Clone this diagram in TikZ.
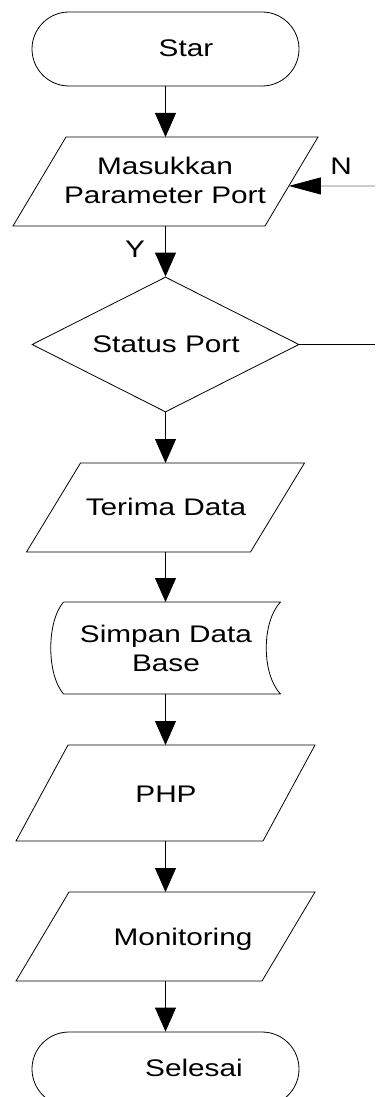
\documentclass[tikz,border=0pt]{standalone}
\usepackage{fontspec}
\setmainfont{Liberation Sans}[FakeStretch=1.24]
\usetikzlibrary{arrows.meta,shapes.misc,shapes.geometric,calc}
\tikzset{
  line/.style={line width=0.8pt},
  flow/.style={line, -{Triangle[length=24pt,width=21pt]}},
  terminal/.style={rounded rectangle, draw, line, minimum width=267pt, minimum height=74pt, inner sep=0pt},
  decision/.style={diamond, draw, line, minimum width=267pt, minimum height=135pt, inner sep=0pt},
  frame/.style={rectangle, inner sep=0pt, outer sep=0pt},
  label/.style={font=\fontsize{24}{29}\selectfont, anchor=base, inner sep=0pt, align=center},
}
% outline of a parallelogram filling the box of node #1, top edge shifted right by #2
\newcommand\slantoutline[2]{%
  \draw[line] ([xshift=#2]#1.north west) -- (#1.north east)
    -- ([xshift=-#2]#1.south east) -- (#1.south west) -- cycle;}
\begin{document}
\begin{tikzpicture}[x=1pt,y=-1pt]
\fill[white] (0,0) rectangle (375,1097);
\useasboundingbox (0,0) rectangle (375,1097);

% shapes
\node[terminal] (start) at (165.5,49) {};
\node[frame, minimum width=305pt, minimum height=89pt] (inp) at (165.5,181.5) {};
\slantoutline{inp}{53pt}
\node[decision] (stat) at (165.5,344.5) {};
\node[frame, minimum width=278pt, minimum height=89pt] (recv) at (165.5,507.5) {};
\slantoutline{recv}{54pt}
\node[frame, minimum width=230pt, minimum height=92pt] (db) at (165.5,648) {};
\draw[line] ([xshift=13pt]db.north west) -- (db.north east)
  .. controls ([xshift=-19pt,yshift=-20pt]db.north east) and ([xshift=-19pt,yshift=20pt]db.south east) .. (db.south east)
  -- ([xshift=13pt]db.south west)
  .. controls ([xshift=-4pt,yshift=20pt]db.south west) and ([xshift=-4pt,yshift=-20pt]db.north west) .. ([xshift=13pt]db.north west);
\node[frame, minimum width=299pt, minimum height=96pt] (php) at (165.5,793) {};
\slantoutline{php}{52pt}
\node[frame, minimum width=299pt, minimum height=89pt] (mon) at (165.5,936.5) {};
\slantoutline{mon}{53pt}
\node[terminal] (stop) at (165.5,1069) {};

% texts
\node[label] (tStart) at (186,57) {Star};
\node[label] (tInp) at (165,203) {Masukkan\\Parameter Port};
\node[label] (tStat) at (166,352) {Status Port};
\node[label] (tRecv) at (166,515) {Terima Data};
\node[label] (tDb) at (166,671) {Simpan Data\\Base};
\node[label] (tPhp) at (166,802) {PHP};
\node[label] (tMon) at (183,945) {Monitoring};
\node[label] (tStop) at (194,1076) {Selesai};
\node[label] (tY) at (135,257) {Y};
\node[label] (tN) at (341,174) {N};

% connectors
\draw[flow] (start.south) -- (inp.north);
\draw[flow] (inp.south) -- (stat.north);
\draw[flow] (stat.south) -- (recv.north);
\draw[flow] (recv.south) -- (db.north);
\draw[flow] (db.south) -- (php.north);
\draw[flow] (php.south) -- (mon.north);
\draw[flow] (mon.south) -- (stop.north);

\coordinate (nEnd) at (375,186);
\coordinate (nTip) at ($(inp.north east)!0.55!([xshift=-53pt]inp.south east)$);
\draw[line, draw=black!55, -{Triangle[length=32pt,width=17pt,color=black,fill=black]}] (nEnd) -- (nTip);

\coordinate (dEnd) at (375,344.5);
\draw[line] (stat.east) -- (dEnd);
\end{tikzpicture}
\end{document}
